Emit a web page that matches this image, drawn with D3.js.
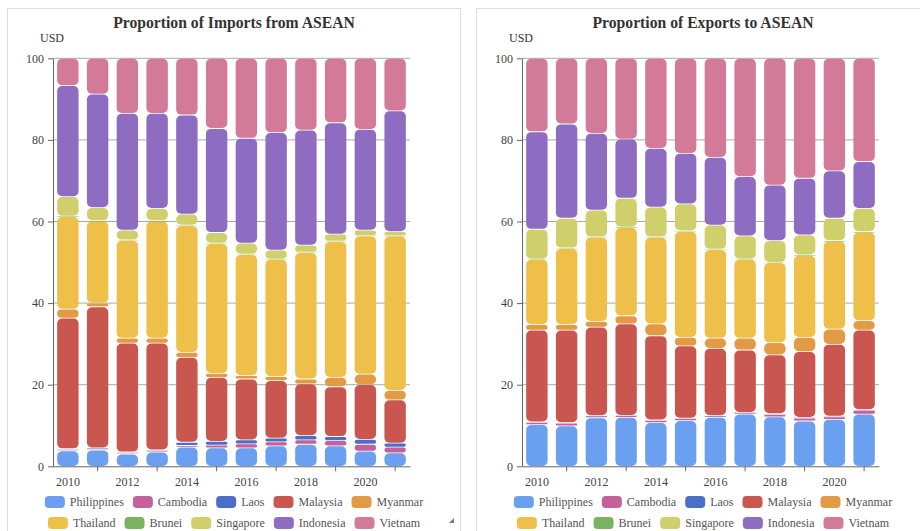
<!DOCTYPE html>
<html>
<head>
<meta charset="utf-8">
<script src="https://cdn.jsdelivr.net/npm/d3@7"></script>
<style>
  html, body { margin: 0; padding: 0; background: #fff; }
  svg { display: block; font-family: "Liberation Serif", "Times New Roman", serif; }
</style>
</head>
<body>
<svg id="chart" width="920" height="531"></svg>
<script>
// Years shown along the x axis
const years = [2010, 2011, 2012, 2013, 2014, 2015, 2016, 2017, 2018, 2019, 2020, 2021];

// ASEAN partners, stacked bottom to top
const countries = ["Philippines", "Cambodia", "Laos", "Malaysia", "Myanmar",
                   "Thailand", "Brunei", "Singapore", "Indonesia", "Vietnam"];

const colors = ["#6b9ff0", "#c4609a", "#4b6fc9", "#c9574f", "#e39a45",
                "#eec04a", "#79b35f", "#cfd06c", "#8e6cc2", "#d47a99"];

const yTicks = [0, 20, 40, 60, 80, 100];

// Share of imports from each partner (%), one row per country, 2010–2021
const importShares = [
  [3.8, 4.0, 3.0, 3.5, 4.7, 4.5, 4.5, 5.0, 5.4, 5.0, 3.7, 3.3],
  [0.2, 0.2, 0.2, 0.2, 0.4, 0.7, 1.0, 1.0, 1.1, 1.3, 1.7, 1.4],
  [0.3, 0.3, 0.3, 0.3, 0.8, 0.9, 1.0, 0.9, 1.0, 1.0, 1.2, 1.0],
  [32.0, 34.6, 26.7, 26.2, 20.8, 15.7, 14.9, 14.1, 12.7, 12.2, 13.4, 10.6],
  [2.2, 0.9, 1.2, 1.2, 1.2, 1.0, 0.8, 1.0, 1.2, 2.3, 2.6, 2.3],
  [22.7, 20.1, 24.0, 28.7, 31.1, 31.8, 29.7, 28.7, 31.0, 33.3, 33.9, 37.8],
  [0.1, 0.1, 0.1, 0.1, 0.1, 0.1, 0.1, 0.1, 0.1, 0.1, 0.1, 0.1],
  [4.8, 3.2, 2.4, 3.0, 2.7, 2.6, 2.7, 2.2, 1.7, 1.7, 1.3, 1.0],
  [27.2, 27.8, 28.6, 23.3, 24.3, 25.5, 25.7, 28.8, 28.2, 27.3, 24.7, 29.6],
  [6.7, 8.8, 13.5, 13.5, 13.9, 17.2, 19.6, 18.2, 17.6, 15.8, 17.4, 12.9]
];

// Share of exports to each partner (%), one row per country, 2010–2021
const exportShares = [
  [10.2, 9.9, 11.9, 12.0, 10.7, 11.2, 12.0, 12.8, 12.1, 11.1, 11.5, 12.8],
  [0.5, 0.6, 0.4, 0.4, 0.5, 0.5, 0.3, 0.3, 0.6, 0.7, 0.6, 0.9],
  [0.2, 0.2, 0.1, 0.1, 0.2, 0.1, 0.1, 0.1, 0.2, 0.2, 0.2, 0.2],
  [22.5, 22.7, 21.7, 22.4, 20.6, 17.7, 16.5, 15.3, 14.4, 16.1, 17.6, 19.5],
  [1.3, 1.3, 1.4, 2.0, 2.9, 2.1, 2.5, 2.9, 3.0, 3.5, 3.7, 2.3],
  [16.0, 18.7, 20.6, 21.6, 21.2, 26.0, 21.7, 19.3, 19.6, 20.1, 21.6, 21.7],
  [0.1, 0.1, 0.1, 0.1, 0.1, 0.1, 0.1, 0.1, 0.1, 0.1, 0.1, 0.1],
  [7.3, 7.3, 6.6, 7.1, 7.3, 6.6, 5.9, 5.7, 5.3, 4.9, 5.5, 5.7],
  [23.9, 23.1, 18.8, 14.5, 14.4, 12.4, 16.6, 14.5, 13.6, 13.9, 11.6, 11.5],
  [18.0, 16.1, 18.4, 19.8, 22.1, 23.3, 24.3, 29.0, 31.1, 29.4, 27.6, 25.3]
];

const svg = d3.select("#chart");
const serif = "Liberation Serif, Times New Roman, serif";
const textColor = "#444";

function drawPanel(offsetX, title, shares, showGrip) {
  const g = svg.append("g").attr("transform", `translate(${offsetX},0)`);

  // panel frame
  g.append("rect")
    .attr("x", 7.5).attr("y", 8.5)
    .attr("width", 453).attr("height", 560)
    .attr("fill", "#fff").attr("stroke", "#dcdcdc");

  const plotLeft = 53, plotRight = 410, plotTop = 58.3, plotBottom = 466.3;
  const cx = (7.5 + 460.5) / 2;

  g.append("text")
    .attr("x", cx).attr("y", 27.5)
    .attr("text-anchor", "middle")
    .attr("font-family", serif)
    .attr("font-size", 15.7).attr("font-weight", "bold")
    .attr("fill", "#333")
    .text(title);

  g.append("text")
    .attr("x", 52).attr("y", 42)
    .attr("text-anchor", "middle")
    .attr("font-family", serif)
    .attr("font-size", 12).attr("fill", "#333")
    .text("USD");

  const x = d3.scaleBand().domain(years)
    .range([plotLeft, plotRight])
    .paddingInner(0.28).paddingOuter(0.14);
  const y = d3.scaleLinear().domain([0, 100]).range([plotBottom, plotTop]);

  // horizontal grid
  g.append("g").selectAll("line")
    .data(yTicks.filter(d => d > 0))
    .join("line")
    .attr("x1", plotLeft).attr("x2", plotRight)
    .attr("y1", d => y(d)).attr("y2", d => y(d))
    .attr("stroke", "#aaa").attr("stroke-width", 1);

  // stacked data
  const rows = years.map((yr, i) => {
    const r = { year: yr };
    countries.forEach((c, k) => { r[c] = shares[k][i]; });
    return r;
  });
  const stacked = d3.stack().keys(countries)(rows);

  const layers = g.append("g").selectAll("g")
    .data(stacked)
    .join("g")
    .attr("fill", (d, k) => colors[k]);

  const segH = d => y(d[0]) - y(d[1]) - 0.8;
  layers.selectAll("rect")
    .data(d => d)
    .join("rect")
    .attr("x", d => x(d.data.year))
    .attr("width", x.bandwidth())
    .attr("y", d => y(d[1]) + 0.4)
    .attr("height", d => Math.max(0.3, segH(d)))
    .attr("rx", d => Math.min(5, Math.max(0.15, segH(d) / 2)))
    .attr("ry", d => Math.min(5, Math.max(0.15, segH(d) / 2)));

  // y axis
  const yAxis = g.append("g")
    .attr("transform", `translate(${plotLeft},0)`)
    .call(d3.axisLeft(y).tickValues(yTicks).tickSize(5).tickSizeOuter(0).tickPadding(4));
  yAxis.attr("font-family", serif);
  yAxis.select(".domain").attr("stroke", "#666");
  yAxis.selectAll(".tick line").attr("stroke", "#666");
  yAxis.selectAll(".tick text")
    .attr("font-size", 12).attr("fill", textColor);

  // x axis: ticks on odd years, labels on even years
  const xAxis = g.append("g")
    .attr("transform", `translate(0,${plotBottom})`)
    .call(d3.axisBottom(x).tickValues(years).tickSize(5).tickSizeOuter(0).tickPadding(6));
  xAxis.attr("font-family", serif);
  xAxis.select(".domain").attr("stroke", "#666");
  xAxis.selectAll(".tick line")
    .attr("stroke", "#666")
    .attr("display", (d, i) => i % 2 === 1 ? null : "none");
  xAxis.selectAll(".tick text")
    .attr("font-size", 12).attr("fill", textColor)
    .attr("display", (d, i) => i % 2 === 0 ? null : "none");

  // legend, two centered rows of five
  const swW = 20, swH = 12, textGap = 5, itemGap = 9;
  const legendRows = [countries.slice(0, 5), countries.slice(5)];
  const rowY = [502, 523];
  legendRows.forEach((names, r) => {
    const row = g.append("g");
    const items = names.map(name => {
      const it = row.append("g");
      it.append("rect")
        .attr("width", swW).attr("height", swH)
        .attr("y", -swH / 2).attr("rx", 4)
        .attr("fill", colors[countries.indexOf(name)]);
      const t = it.append("text")
        .attr("x", swW + textGap).attr("dy", "0.35em")
        .attr("font-family", serif)
        .attr("font-size", 12).attr("fill", "#555")
        .text(name);
      return { it, w: swW + textGap + t.node().getComputedTextLength() };
    });
    const total = d3.sum(items, d => d.w) + itemGap * (items.length - 1);
    let cur = cx - total / 2;
    items.forEach(d => {
      d.it.attr("transform", `translate(${cur},${rowY[r]})`);
      cur += d.w + itemGap;
    });
  });

  if (showGrip) {
    g.append("path")
      .attr("d", "M454,518 L454,523 L449,523 Z")
      .attr("fill", "#777");
  }
}

drawPanel(0, "Proportion of Imports from ASEAN", importShares, true);
drawPanel(469, "Proportion of Exports to ASEAN", exportShares, false);
</script>
</body>
</html>
